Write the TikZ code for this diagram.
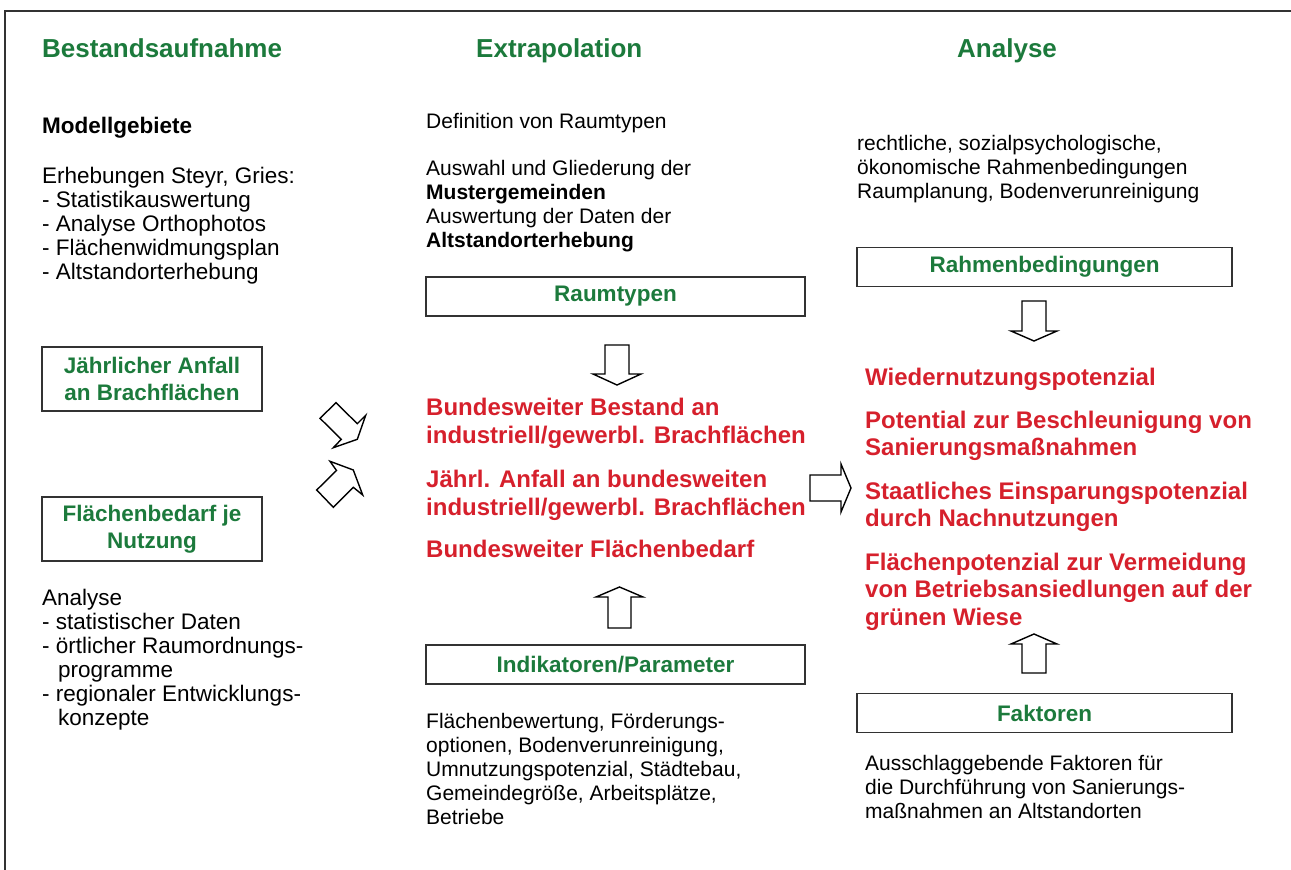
\documentclass[tikz,border=0pt]{standalone}
\usepackage{fontspec}
\setmainfont{Liberation Sans}
\definecolor{hgreen}{RGB}{28,122,60}
\definecolor{hred}{RGB}{214,32,44}
\definecolor{frame}{RGB}{50,50,50}
\begin{document}
\begin{tikzpicture}[x=1pt,y=-1pt,
  body/.style={anchor=base west, inner sep=0pt, font=\fontsize{21}{24}\selectfont},
  bodyl/.style={anchor=base west, inner sep=0pt, font=\fontsize{22.5}{24}\selectfont},
  bodyb/.style={body, font=\fontsize{21}{24}\selectfont\bfseries},
  head/.style={anchor=base west, inner sep=0pt, text=hgreen, font=\fontsize{26}{30}\selectfont\bfseries},
  redtxt/.style={anchor=base west, inner sep=0pt, text=hred, font=\fontsize{24}{28}\selectfont\bfseries},
  gbox/.style={draw=frame, line width=1.5pt, inner sep=0pt, align=center, text=hgreen, font=\fontsize{22.5}{27}\selectfont\bfseries},
  blockarrow/.style={draw=black, line width=1.4pt, line join=miter, fill=white}]
\useasboundingbox (0,0) rectangle (1291,870);
% frame
\draw[frame, line width=2pt] (5,870) -- (5,10.5) -- (1291,10.5);

% headings
\node[head] (h1) at (42,57) {Bestandsaufnahme};
\node[head] (h2) at (476,57) {Extrapolation};
\node[head] (h3) at (957,57) {Analyse};

% left column
\node[bodyl, font=\fontsize{22.5}{24}\selectfont\bfseries] (l0) at (42,133) {Modellgebiete};
\node[bodyl] (l1) at (42,183) {Erhebungen Steyr, Gries:};
\node[bodyl] (l2) at (42,207) {- Statistikauswertung};
\node[bodyl] (l3) at (42,231) {- Analyse Orthophotos};
\node[bodyl] (l4) at (42,255) {- Fl\"achenwidmungsplan};
\node[bodyl] (l5) at (42,279) {- Altstandorterhebung};

\node[gbox, minimum width=220pt, minimum height=64pt] (b1) at (152,379) {J\"ahrlicher Anfall\\ an Brachfl\"achen};
\node[gbox, minimum width=220pt, minimum height=64pt] (b2) at (152,529) {Fl\"achenbedarf je\\Nutzung};

\node[bodyl] (a0) at (42,605) {Analyse};
\node[bodyl] (a1) at (42,629) {- statistischer Daten};
\node[bodyl] (a2) at (42,653) {- \"ortlicher Raumordnungs-};
\node[bodyl] (a3) at (58,677) {programme};
\node[bodyl] (a4) at (42,701) {- regionaler Entwicklungs-};
\node[bodyl] (a5) at (58,725) {konzepte};

% middle column
\node[body] (m0) at (426,128) {Definition von Raumtypen};
\node[body] (m1) at (426,175) {Auswahl und Gliederung der};
\node[bodyb] (m2) at (426,199) {Mustergemeinden};
\node[body] (m3) at (426,223) {Auswertung der Daten der};
\node[bodyb] (m4) at (426,247) {Altstandorterhebung};

\node[gbox, minimum width=379pt, minimum height=39pt] (b3) at (615.5,296.5) {Raumtypen};

\node[redtxt] (r1) at (426,415) {Bundesweiter Bestand an};
\node[redtxt] (r2) at (426,443) {industriell/gewerbl. Brachfl\"achen};
\node[redtxt] (r3) at (426,487) {J\"ahrl. Anfall an bundesweiten};
\node[redtxt] (r4) at (426,515) {industriell/gewerbl. Brachfl\"achen};
\node[redtxt] (r5) at (426,557) {Bundesweiter Fl\"achenbedarf};

\node[gbox, minimum width=379pt, minimum height=39pt] (b4) at (615.5,664.5) {Indikatoren/Parameter};

\node[body] (p1) at (426,728) {Fl\"achenbewertung, F\"orderungs-};
\node[body] (p2) at (426,752) {optionen, Bodenverunreinigung,};
\node[body] (p3) at (426,776) {Umnutzungspotenzial, St\"adtebau,};
\node[body] (p4) at (426,800) {Gemeindegr\"o\ss e, Arbeitspl\"atze,};
\node[body] (p5) at (426,824) {Betriebe};

% right column
\node[body] (q1) at (857,150) {rechtliche, sozialpsychologische,};
\node[body] (q2) at (857,174) {\"okonomische Rahmenbedingungen};
\node[body] (q3) at (857,198) {Raumplanung, Bodenverunreinigung};

\node[gbox, minimum width=375pt, minimum height=39pt] (b5) at (1044.5,267) {Rahmenbedingungen};

\node[redtxt] (s1) at (865,385) {Wiedernutzungspotenzial};
\node[redtxt] (s2) at (865,428) {Potential zur Beschleunigung von};
\node[redtxt] (s3) at (865,455) {Sanierungsma\ss nahmen};
\node[redtxt] (s4) at (865,499) {Staatliches Einsparungspotenzial};
\node[redtxt] (s5) at (865,526) {durch Nachnutzungen};
\node[redtxt] (s6) at (865,570) {Fl\"achenpotenzial zur Vermeidung};
\node[redtxt] (s7) at (865,597) {von Betriebsansiedlungen auf der};
\node[redtxt] (s8) at (865,625) {gr\"unen Wiese};

\node[gbox, minimum width=375pt, minimum height=39pt] (b6) at (1044.5,713) {Faktoren};

\node[body] (f1) at (865,770) {Ausschlaggebende Faktoren f\"ur};
\node[body] (f2) at (865,794) {die Durchf\"uhrung von Sanierungs-};
\node[body] (f3) at (865,818) {ma\ss nahmen an Altstandorten};

% block arrows
% middle down
\draw[blockarrow] (605,345) -- (629,345) -- (629,374) -- (641,374) -- (617,385) -- (593,374) -- (605,374) -- cycle;
% middle up
\draw[blockarrow] (608,628) -- (631,628) -- (631,597) -- (643,597) -- (619.5,587) -- (596,597) -- (608,597) -- cycle;
% middle to right
\draw[blockarrow] (810,475) -- (841,475) -- (841,464) -- (851,488) -- (841,512) -- (841,501) -- (810,501) -- cycle;
% right down
\draw[blockarrow] (1022,301) -- (1046,301) -- (1046,331) -- (1057,331) -- (1034,341) -- (1011,331) -- (1022,331) -- cycle;
% right up
\draw[blockarrow] (1022,673) -- (1046,673) -- (1046,644) -- (1057,644) -- (1034,634) -- (1011,644) -- (1022,644) -- cycle;
% diagonal down-right
\draw[blockarrow] (336,402.7) -- (320,418.3) -- (341.3,439.3) -- (333.3,447.7) -- (357.3,439.3) -- (365.7,415.3) -- (357.3,423.7) -- cycle;
% diagonal up-right
\draw[blockarrow] (316.7,490) -- (333.3,507.3) -- (353.3,487.3) -- (362.7,495) -- (353.3,470) -- (330,461.3) -- (336.5,470.5) -- cycle;
\end{tikzpicture}
\end{document}
